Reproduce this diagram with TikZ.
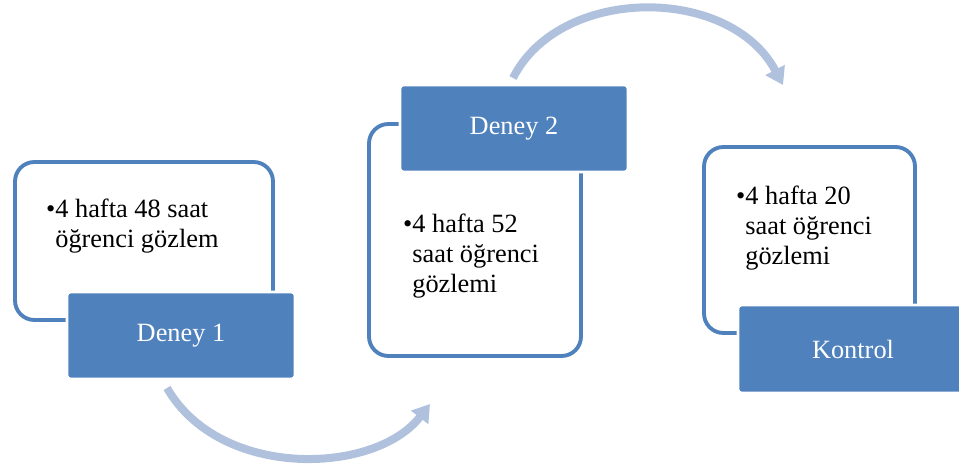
\documentclass[tikz,border=0pt]{standalone}
\usepackage{fontspec}
\setmainfont{Liberation Serif}
\usetikzlibrary{arrows.meta}
\definecolor{OfficeBlue}{HTML}{4F81BD}
\definecolor{PaleBlue}{HTML}{B0C1DE}

\begin{document}
\begin{tikzpicture}[
    x=0.02cm, y=-0.02cm,
    frame/.style={
      rounded corners=11pt,
      draw=OfficeBlue,
      line width=2.2pt,
      fill=white
    },
    tag/.style={
      rounded corners=2pt,
      draw=white,
      line width=1.5pt,
      fill=OfficeBlue,
      text=white,
      minimum width=4.56cm,
      minimum height=1.74cm,
      font=\fontsize{15}{17}\selectfont
    },
    note/.style={
      anchor=north west,
      inner sep=0pt,
      align=left,
      font=\fontsize{15}{17}\selectfont
    },
    curvearrow/.style={-{Triangle[length=0.34cm, width=0.42cm]}, draw=PaleBlue, line width=0.16cm}
  ]
    \useasboundingbox (0,0) rectangle (959,465);

    % curved arrows between the steps
    \coordinate (out1) at (167,388);
    \coordinate (in2) at (430,404);
    \coordinate (out2) at (513,78);
    \coordinate (in3) at (783,85);
    \draw[curvearrow] (out1) .. controls (220,480) and (375,475) .. (in2);
    \draw[curvearrow] (out2) .. controls (560,-15) and (730,-15) .. (in3);

    % Deney 1
    \node[frame, minimum width=5.16cm, minimum height=3.16cm] (box1) at (144,241) {};
    \node[tag] (dn1) at (181,335.5) {Deney 1};
    \node[note] (txt1) at (55,199) {\llap{\textbullet}4 hafta 48 saat\\öğrenci gözlem};

    % Deney 2
    \node[frame, minimum width=4.24cm, minimum height=4.64cm] (box2) at (475,240) {};
    \node[tag] (dn2) at (514,128.5) {Deney 2};
    \node[note] (txt2) at (412,214) {\llap{\textbullet}4 hafta 52\\saat öğrenci\\gözlemi};

    % Kontrol
    \node[frame, minimum width=4.22cm, minimum height=3.72cm] (box3) at (809.5,240) {};
    \node[tag, minimum width=4.6cm, minimum height=1.76cm] (kontrol) at (853,349) {Kontrol};
    \node[note] (txt3) at (745,186) {\llap{\textbullet}4 hafta 20\\saat öğrenci\\gözlemi};
  \end{tikzpicture}
\end{document}
